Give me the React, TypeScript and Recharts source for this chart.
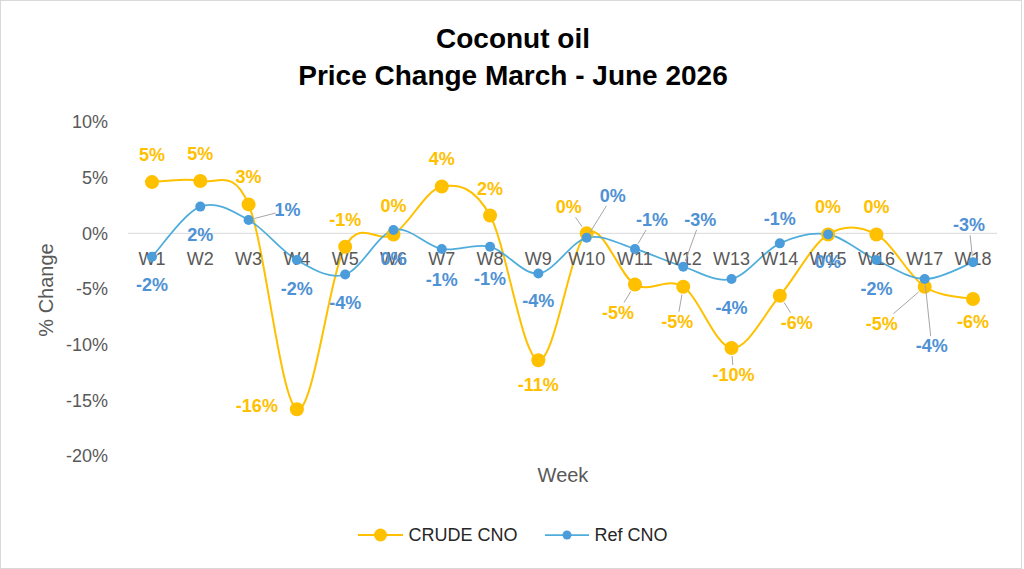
import React from 'react';
import { LineChart, Line, XAxis, YAxis, ReferenceLine } from 'recharts';

const weeks = ['W1', 'W2', 'W3', 'W4', 'W5', 'W6', 'W7', 'W8', 'W9', 'W10', 'W11', 'W12', 'W13', 'W14', 'W15', 'W16', 'W17', 'W18'];
const crudeCno = [4.6, 4.7, 2.6, -15.8, -1.2, -0.1, 4.2, 1.6, -11.4, 0.0, -4.6, -4.8, -10.3, -5.6, -0.1, -0.1, -4.8, -5.9];
const refCno = [-2.1, 2.4, 1.2, -2.4, -3.7, 0.3, -1.4, -1.2, -3.6, -0.4, -1.4, -3.0, -4.1, -0.9, -0.1, -2.4, -4.1, -2.6];
const yTicks = [-20, -15, -10, -5, 0, 5, 10];

// label offsets from each point: [dx, dy, leader line?]
const crudeLabelPos: [number, number, number?][] = [
  [0, -27], [0, -27], [0, -27], [-40, -3], [0, -27], [0, -28], [0, -28], [0, -27], [0, 25],
  [-18, -26, 1], [-17, 28, 1], [-6, 35, 1], [2, 27, 1], [17, 27, 1], [0, -27], [0, -27], [-43, 37, 1], [0, 23],
];
const refLabelPos: [number, number, number?][] = [
  [0, 28], [0, 28], [39, -10, 1], [0, 29], [0, 28], [0, 29], [0, 31], [0, 32], [0, 28],
  [26, -42, 1], [17, -29, 1], [17, -47, 1], [0, 29], [0, -24], [0, 28], [0, 29], [7, 67, 1], [-4, -37, 1],
];

const GOLD = '#FFC000';
const BLUE_LINE = '#4FADDB';
const BLUE_DOT = '#4A9CDA';
const BLUE_TEXT = '#4E91D4';
const GRAY = '#595959';

const data = weeks.map((week, i) => ({ week, crude: crudeCno[i], ref: refCno[i] }));

// Catmull-Rom style smoothing, close to what spreadsheet "smoothed line" gives
const smoothCurve = (ctx: any) => {
  let pts: number[][] = [];
  return {
    areaStart() {},
    areaEnd() {},
    lineStart() {
      pts = [];
    },
    point(x: number, y: number) {
      pts.push([+x, +y]);
    },
    lineEnd() {
      if (!pts.length) return;
      ctx.moveTo(pts[0][0], pts[0][1]);
      for (let i = 0; i < pts.length - 1; i++) {
        const p0 = pts[i - 1] || pts[i];
        const p1 = pts[i];
        const p2 = pts[i + 1];
        const p3 = pts[i + 2] || p2;
        ctx.bezierCurveTo(
          p1[0] + (p2[0] - p0[0]) / 6,
          p1[1] + (p2[1] - p0[1]) / 6,
          p2[0] - (p3[0] - p1[0]) / 6,
          p2[1] - (p3[1] - p1[1]) / 6,
          p2[0],
          p2[1],
        );
      }
    },
  };
};

const pct = (v: number) => `${Math.round(v) + 0}%`;

const makeDot =
  (values: number[], place: [number, number, number?][], r: number, dotColor: string, textColor: string, name: string) =>
  (props: any) => {
    const { cx, cy, index } = props;
    if (cx == null || cy == null) return <g key={`${name}-${index}`} />;
    const [dx, dy, leader] = place[index];
    const text = pct(values[index]);
    const lx = cx + dx;
    const ly = cy + dy;
    let line = null;
    if (leader) {
      const vx = cx - lx;
      const vy = cy - ly;
      const len = Math.hypot(vx, vy);
      const hw = text.length * 5 + 2;
      const hh = 10;
      const t = Math.min(vx ? hw / Math.abs(vx) : 9, vy ? hh / Math.abs(vy) : 9);
      const sx = lx + vx * t;
      const sy = ly + vy * t;
      const ex = cx - (vx / len) * (r + 1);
      const ey = cy - (vy / len) * (r + 1);
      line = <line x1={sx} y1={sy} x2={ex} y2={ey} stroke="#a6a6a6" strokeWidth={1} />;
    }
    return (
      <g key={`${name}-${index}`}>
        {line}
        <circle cx={cx} cy={cy} r={r} fill={dotColor} stroke="none" />
        <text x={lx} y={ly} textAnchor="middle" dominantBaseline="central" fill={textColor} fontSize={18} fontWeight={700}>
          {text}
        </text>
      </g>
    );
  };

const weekLabel = (props: any) => {
  const { cx, cy, index } = props;
  return (
    <text key={`wk-${index}`} x={cx} y={cy + 26} textAnchor="middle" dominantBaseline="central" fill={GRAY} fontSize={18}>
      {weeks[index]}
    </text>
  );
};

export default function App() {
  return (
    <div
      style={{
        position: 'absolute',
        left: 0,
        top: 0,
        width: 1020,
        height: 567,
        border: '1px solid #d9d9d9',
        background: '#fff',
        fontFamily: '"Liberation Sans", Arial, sans-serif',
      }}
    >
      <div style={{ position: 'absolute', left: 0, top: 0, width: 1024, textAlign: 'center', fontWeight: 700, fontSize: 28, lineHeight: '37px', color: '#000', paddingTop: 19 }}>
        <div>Coconut oil</div>
        <div>Price Change March - June 2026</div>
      </div>

      <div style={{ position: 'absolute', left: -1, top: -1 }}>
        <LineChart width={1024} height={569} data={data} margin={{ top: 122, right: 27, bottom: 113, left: 0 }}>
          <XAxis dataKey="week" hide padding={{ left: 24, right: 24 }} />
          <YAxis
            domain={[-20, 10]}
            ticks={yTicks}
            tickFormatter={(v: number) => `${v}%`}
            axisLine={false}
            tickLine={false}
            tickSize={0}
            tickMargin={20}
            width={128}
            tick={{ fill: GRAY, fontSize: 18 }}
          />
          <ReferenceLine y={0} stroke="#d9d9d9" strokeWidth={1} />
          <Line
            dataKey={() => 0}
            stroke="none"
            dot={weekLabel}
            activeDot={false}
            isAnimationActive={false}
            legendType="none"
          />
          <Line
            dataKey="crude"
            name="CRUDE CNO"
            type={smoothCurve as any}
            stroke={GOLD}
            strokeWidth={2}
            dot={makeDot(crudeCno, crudeLabelPos, 7, GOLD, GOLD, 'crude')}
            activeDot={false}
            isAnimationActive={false}
          />
          <Line
            dataKey="ref"
            name="Ref CNO"
            type={smoothCurve as any}
            stroke={BLUE_LINE}
            strokeWidth={1.75}
            dot={makeDot(refCno, refLabelPos, 5, BLUE_DOT, BLUE_TEXT, 'ref')}
            activeDot={false}
            isAnimationActive={false}
          />
        </LineChart>
      </div>

      <div style={{ position: 'absolute', left: 0, top: 472, width: 1024, textAlign: 'center', fontSize: 20, color: GRAY, lineHeight: '1' }}>
        <span style={{ position: 'relative', left: 50, top: -8 }}>Week</span>
      </div>
      <div
        style={{
          position: 'absolute',
          left: 45,
          top: 289,
          transform: 'translate(-50%, -50%) rotate(-90deg)',
          fontSize: 20,
          color: GRAY,
          whiteSpace: 'nowrap',
        }}
      >
        % Change
      </div>

      <div style={{ position: 'absolute', left: 0, top: 522, width: 1024, display: 'flex', justifyContent: 'center', alignItems: 'center', fontSize: 18, color: '#262626', gap: 27 }}>
        <div style={{ display: 'flex', alignItems: 'center', gap: 5 }}>
          <svg width={45} height={24}>
            <line x1={0} y1={12} x2={45} y2={12} stroke={GOLD} strokeWidth={2} />
            <circle cx={22.5} cy={12} r={6.5} fill={GOLD} />
          </svg>
          <span>CRUDE CNO</span>
        </div>
        <div style={{ display: 'flex', alignItems: 'center', gap: 6 }}>
          <svg width={44} height={24}>
            <line x1={0} y1={12} x2={44} y2={12} stroke={BLUE_LINE} strokeWidth={1.75} />
            <circle cx={22} cy={12} r={4.5} fill={BLUE_DOT} />
          </svg>
          <span>Ref CNO</span>
        </div>
      </div>
    </div>
  );
}
